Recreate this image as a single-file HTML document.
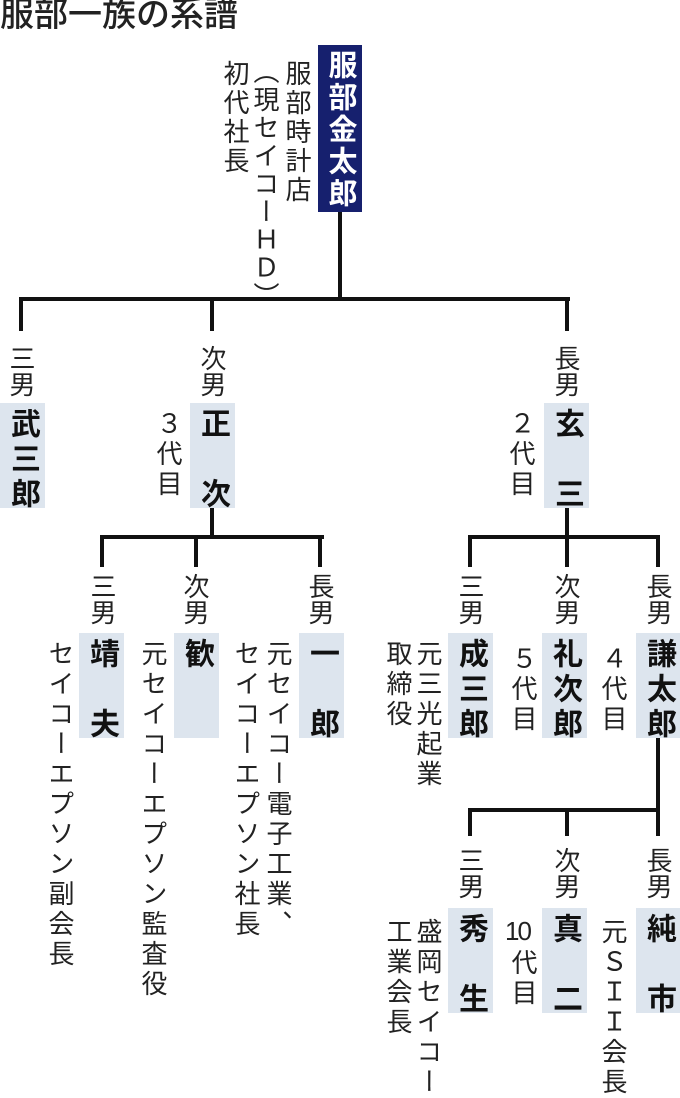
<!DOCTYPE html>
<html><head><meta charset="utf-8"><style>
body{margin:0;width:680px;height:1095px;background:#fff;position:relative;overflow:hidden;font-family:"Liberation Sans","Noto Sans CJK JP",sans-serif;color:#222}
.v{position:absolute;writing-mode:vertical-rl;text-orientation:upright;font-size:26px;line-height:26px;letter-spacing:4px;white-space:nowrap}
.l{letter-spacing:0}
.b{position:absolute;background:#dde5ee;width:45px;height:105px}
.b span{position:absolute;left:7px;top:5px;height:120px;white-space:nowrap;writing-mode:vertical-rl;text-orientation:upright;font-size:30px;line-height:31px;font-weight:bold;letter-spacing:5px;color:#111}
.h{position:absolute;background:#111;height:4px}
.w{position:absolute;background:#111;width:4px}
</style></head><body>
<div style="position:absolute;left:0;top:-4px;font-size:34px;line-height:38px;color:#222;font-weight:500;white-space:nowrap">服部一族の系譜</div>

<div style="position:absolute;left:318px;top:45px;width:44px;height:167px;background:#16206e"></div>
<div style="position:absolute;left:325px;top:50px;height:170px;white-space:nowrap;writing-mode:vertical-rl;text-orientation:upright;font-size:29px;line-height:30px;font-weight:bold;letter-spacing:3px;color:#fff">服部金太郎</div>
<div class="v" style="left:284px;top:60px;letter-spacing:3px">服部時計店</div>
<div class="v" style="left:252px;top:58px;letter-spacing:2px">（現セイコーＨＤ）</div>
<div class="v" style="left:222px;top:60px;letter-spacing:3px">初代社長</div>

<div class="w" style="left:338px;top:212px;height:88px"></div>
<div class="h" style="left:19px;top:297px;width:551px"></div>
<div class="w" style="left:19px;top:297px;height:34px"></div>
<div class="w" style="left:210px;top:297px;height:34px"></div>
<div class="w" style="left:565px;top:297px;height:34px"></div>

<div class="v l" style="left:8px;top:345px">三男</div>
<div class="v l" style="left:199px;top:345px">次男</div>
<div class="v l" style="left:553px;top:345px">長男</div>
<div class="b" style="left:0;top:403px"><span>武三郎</span></div>
<div class="b" style="left:190px;top:403px"><span>正　次</span></div>
<div class="b" style="left:544px;top:403px"><span>玄　三</span></div>
<div class="v" style="left:155px;top:410px">３代目</div>
<div class="v" style="left:508px;top:410px">２代目</div>

<div class="w" style="left:210px;top:508px;height:30px"></div>
<div class="h" style="left:100px;top:535px;width:224px"></div>
<div class="w" style="left:100px;top:535px;height:32px"></div>
<div class="w" style="left:194px;top:535px;height:32px"></div>
<div class="w" style="left:318px;top:535px;height:32px"></div>
<div class="w" style="left:565px;top:508px;height:30px"></div>
<div class="h" style="left:468px;top:535px;width:192px"></div>
<div class="w" style="left:468px;top:535px;height:32px"></div>
<div class="w" style="left:565px;top:535px;height:32px"></div>
<div class="w" style="left:656px;top:535px;height:32px"></div>

<div class="v l" style="left:89px;top:573px">三男</div>
<div class="v l" style="left:182px;top:573px">次男</div>
<div class="v l" style="left:307px;top:573px">長男</div>
<div class="v l" style="left:457px;top:573px">三男</div>
<div class="v l" style="left:553px;top:573px">次男</div>
<div class="v l" style="left:645px;top:573px">長男</div>

<div class="b" style="left:79px;top:633px"><span>靖　夫</span></div>
<div class="b" style="left:174px;top:633px"><span>歓</span></div>
<div class="b" style="left:299px;top:633px"><span>一　郎</span></div>
<div class="b" style="left:448px;top:633px"><span>成三郎</span></div>
<div class="b" style="left:542px;top:633px"><span>礼次郎</span></div>
<div class="b" style="left:636px;top:633px"><span>謙太郎</span></div>

<div class="v" style="left:47px;top:640px">セイコーエプソン副会長</div>
<div class="v" style="left:140px;top:640px">元セイコーエプソン監査役</div>
<div class="v" style="left:265px;top:640px">元セイコー電子工業、</div>
<div class="v" style="left:233px;top:640px">セイコーエプソン社長</div>
<div class="v" style="left:415px;top:640px">元三光起業</div>
<div class="v" style="left:385px;top:640px">取締役</div>
<div class="v" style="left:510px;top:645px">５代目</div>
<div class="v" style="left:600px;top:645px">４代目</div>

<div class="w" style="left:656px;top:738px;height:74px"></div>
<div class="h" style="left:468px;top:808px;width:192px"></div>
<div class="w" style="left:468px;top:808px;height:28px"></div>
<div class="w" style="left:565px;top:808px;height:28px"></div>
<div class="w" style="left:656px;top:808px;height:28px"></div>

<div class="v l" style="left:457px;top:847px">三男</div>
<div class="v l" style="left:553px;top:847px">次男</div>
<div class="v l" style="left:645px;top:847px">長男</div>
<div class="b" style="left:448px;top:908px"><span>秀　生</span></div>
<div class="b" style="left:542px;top:908px"><span>真　二</span></div>
<div class="b" style="left:636px;top:908px"><span>純　市</span></div>

<div class="v" style="left:415px;top:918px">盛岡セイコー</div>
<div class="v" style="left:385px;top:918px">工業会長</div>
<div style="position:absolute;left:505px;top:916px;font-size:26px;line-height:30px;letter-spacing:-2px">10</div>
<div class="v" style="left:510px;top:949px">代目</div>
<div class="v" style="left:600px;top:918px">元ＳＩＩ会長</div>
</body></html>
